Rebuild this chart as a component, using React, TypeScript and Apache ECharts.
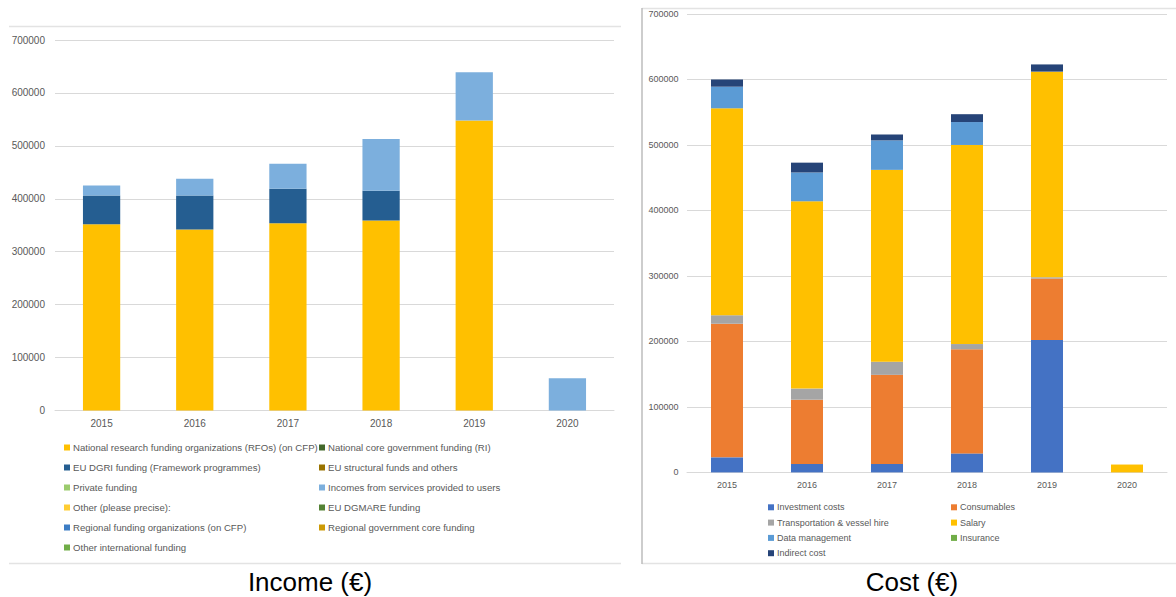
import React, { useEffect, useRef } from "react";
import * as echarts from "echarts";

// Years shared by both charts
const years = ["2015", "2016", "2017", "2018", "2019", "2020"];

// Income (€) by funding source
const incomeNames = [
  "National research funding organizations (RFOs) (on CFP)",
  "National core government funding (RI)",
  "EU DGRI funding (Framework programmes)",
  "EU structural funds and others",
  "Private funding",
  "Incomes from services provided to users",
  "Other (please precise):",
  "EU DGMARE funding",
  "Regional funding organizations (on CFP)",
  "Regional government core funding",
  "Other international funding",
];
const incomeColors = [
  "#FFC000", "#43682B", "#255E91", "#997300", "#9BCB6D", "#7CAFDD",
  "#FFCD33", "#548235", "#3C7DC4", "#CC9A06", "#70AD47",
];
const rfoFunding = [352000, 342000, 354000, 359000, 548000, 0];
const nationalCore = [0, 0, 0, 0, 0, 0];
const euDgri = [54000, 64000, 65000, 56000, 0, 0];
const euStructural = [0, 0, 0, 0, 0, 0];
const privateFunding = [0, 0, 0, 0, 0, 0];
const servicesIncome = [19000, 32000, 47000, 98000, 91000, 61000];
const otherIncome = [0, 0, 0, 0, 0, 0];
const euDgmare = [0, 0, 0, 0, 0, 0];
const regionalOrgs = [0, 0, 0, 0, 0, 0];
const regionalCore = [0, 0, 0, 0, 0, 0];
const otherInternational = [0, 0, 0, 0, 0, 0];
const incomeValues = [
  rfoFunding, nationalCore, euDgri, euStructural, privateFunding, servicesIncome,
  otherIncome, euDgmare, regionalOrgs, regionalCore, otherInternational,
];

// Cost (€) by cost type
const costNames = [
  "Investment costs",
  "Consumables",
  "Transportation & vessel hire",
  "Salary",
  "Data management",
  "Insurance",
  "Indirect cost",
];
const costColors = ["#4472C4", "#ED7D31", "#A5A5A5", "#FFC000", "#5B9BD5", "#70AD47", "#264478"];
const investment = [23000, 13000, 13000, 29000, 202000, 0];
const consumables = [204000, 98000, 136000, 159000, 94000, 0];
const transport = [13000, 17000, 20000, 8000, 2000, 0];
const salary = [316000, 286000, 293000, 304000, 314000, 12000];
const dataManagement = [33000, 44000, 45000, 35000, 0, 0];
const insurance = [0, 0, 0, 0, 0, 0];
const indirect = [11000, 15000, 9000, 12000, 11000, 0];
const costValues = [investment, consumables, transport, salary, dataManagement, insurance, indirect];

const yTicks = { min: 0, max: 700000, interval: 100000 };

const FONT = "'Liberation Sans', Arial, sans-serif";
const GRID_LINE = "#D9D9D9";
const LABEL = "#595959";

export default function App() {
  const ref = useRef<HTMLDivElement>(null);

  useEffect(() => {
    if (!ref.current) return;
    const chart = echarts.init(ref.current, undefined, { renderer: "svg" });

    const incomeSeries = incomeNames.map((name, i) => ({
      name,
      type: "bar",
      stack: "income",
      xAxisIndex: 0,
      yAxisIndex: 0,
      barWidth: "40%",
      itemStyle: { color: incomeColors[i] },
      data: incomeValues[i],
    }));
    const costSeries = costNames.map((name, i) => ({
      name,
      type: "bar",
      stack: "cost",
      xAxisIndex: 1,
      yAxisIndex: 1,
      barWidth: "40%",
      itemStyle: { color: costColors[i] },
      data: costValues[i],
    }));

    const legendBase = (size: number, fontSize: number, lineHeight: number, gap: number) => ({
      orient: "vertical",
      icon: "rect",
      itemWidth: size,
      itemHeight: size,
      itemGap: gap,
      padding: 0,
      selectedMode: false,
      textStyle: {
        color: LABEL,
        fontFamily: FONT,
        fontSize,
        lineHeight,
        padding: [0, 0, 0, -2],
      },
    });

    const yAxis = (gridIndex: number, fontSize: number, margin: number) => ({
      type: "value",
      gridIndex,
      ...yTicks,
      axisLine: { show: false },
      axisTick: { show: false },
      axisLabel: {
        color: LABEL,
        fontFamily: FONT,
        fontSize,
        margin,
        formatter: (v: number) => String(v),
      },
      splitLine: { lineStyle: { color: GRID_LINE, width: 1 } },
    });
    const xAxis = (gridIndex: number, fontSize: number, margin: number) => ({
      type: "category",
      gridIndex,
      data: years,
      axisLine: { lineStyle: { color: GRID_LINE, width: 1 } },
      axisTick: { show: false },
      axisLabel: { color: LABEL, fontFamily: FONT, fontSize, margin },
    });

    chart.setOption({
      animation: false,
      backgroundColor: "#fff",
      grid: [
        { left: 55, right: 562, top: 40, bottom: 186.5 },
        { left: 687, right: 9, top: 14, bottom: 124.6 },
      ],
      xAxis: [xAxis(0, 10, 8), xAxis(1, 9, 8.5)],
      yAxis: [yAxis(0, 10, 10), yAxis(1, 9, 8.5)],
      legend: [
        {
          ...legendBase(6, 9.6, 12, 8),
          left: 64,
          top: 441.5,
          data: incomeNames.filter((_, i) => i % 2 === 0),
        },
        {
          ...legendBase(6, 9.6, 12, 8),
          left: 319,
          top: 441.5,
          data: incomeNames.filter((_, i) => i % 2 === 1),
        },
        {
          ...legendBase(6, 9, 11, 4.3),
          left: 768,
          top: 501.8,
          data: costNames.filter((_, i) => i % 2 === 0),
        },
        {
          ...legendBase(6, 9, 11, 4.3),
          left: 951,
          top: 501.8,
          data: costNames.filter((_, i) => i % 2 === 1),
        },
      ],
      graphic: [
        // Income chart frame lines
        { type: "line", shape: { x1: 9, y1: 26.5, x2: 621, y2: 26.5 }, style: { stroke: "#E3E3E3", lineWidth: 1.5 } },
        { type: "line", shape: { x1: 9, y1: 563.5, x2: 621, y2: 563.5 }, style: { stroke: "#E3E3E3", lineWidth: 1.5 } },
        // Cost chart frame lines
        { type: "line", shape: { x1: 642, y1: 8.5, x2: 1176, y2: 8.5 }, style: { stroke: "#E3E3E3", lineWidth: 1.5 } },
        { type: "line", shape: { x1: 642, y1: 563.5, x2: 1176, y2: 563.5 }, style: { stroke: "#E3E3E3", lineWidth: 1.5 } },
        { type: "line", shape: { x1: 642, y1: 8, x2: 642, y2: 564 }, style: { stroke: "#BDBDBD", lineWidth: 1.5 } },
        // Captions
        {
          type: "text",
          x: 310,
          y: 582,
          style: {
            text: "Income (€)",
            fill: "#000",
            font: `26px ${FONT}`,
            textAlign: "center",
            textVerticalAlign: "middle",
          },
        },
        {
          type: "text",
          x: 912,
          y: 582,
          style: {
            text: "Cost (€)",
            fill: "#000",
            font: `26px ${FONT}`,
            textAlign: "center",
            textVerticalAlign: "middle",
          },
        },
      ],
      series: [...incomeSeries, ...costSeries],
    });

    return () => chart.dispose();
  }, []);

  return (
    <div
      ref={ref}
      style={{ position: "fixed", left: 0, top: 0, width: 1176, height: 597, background: "#fff" }}
    />
  );
}
